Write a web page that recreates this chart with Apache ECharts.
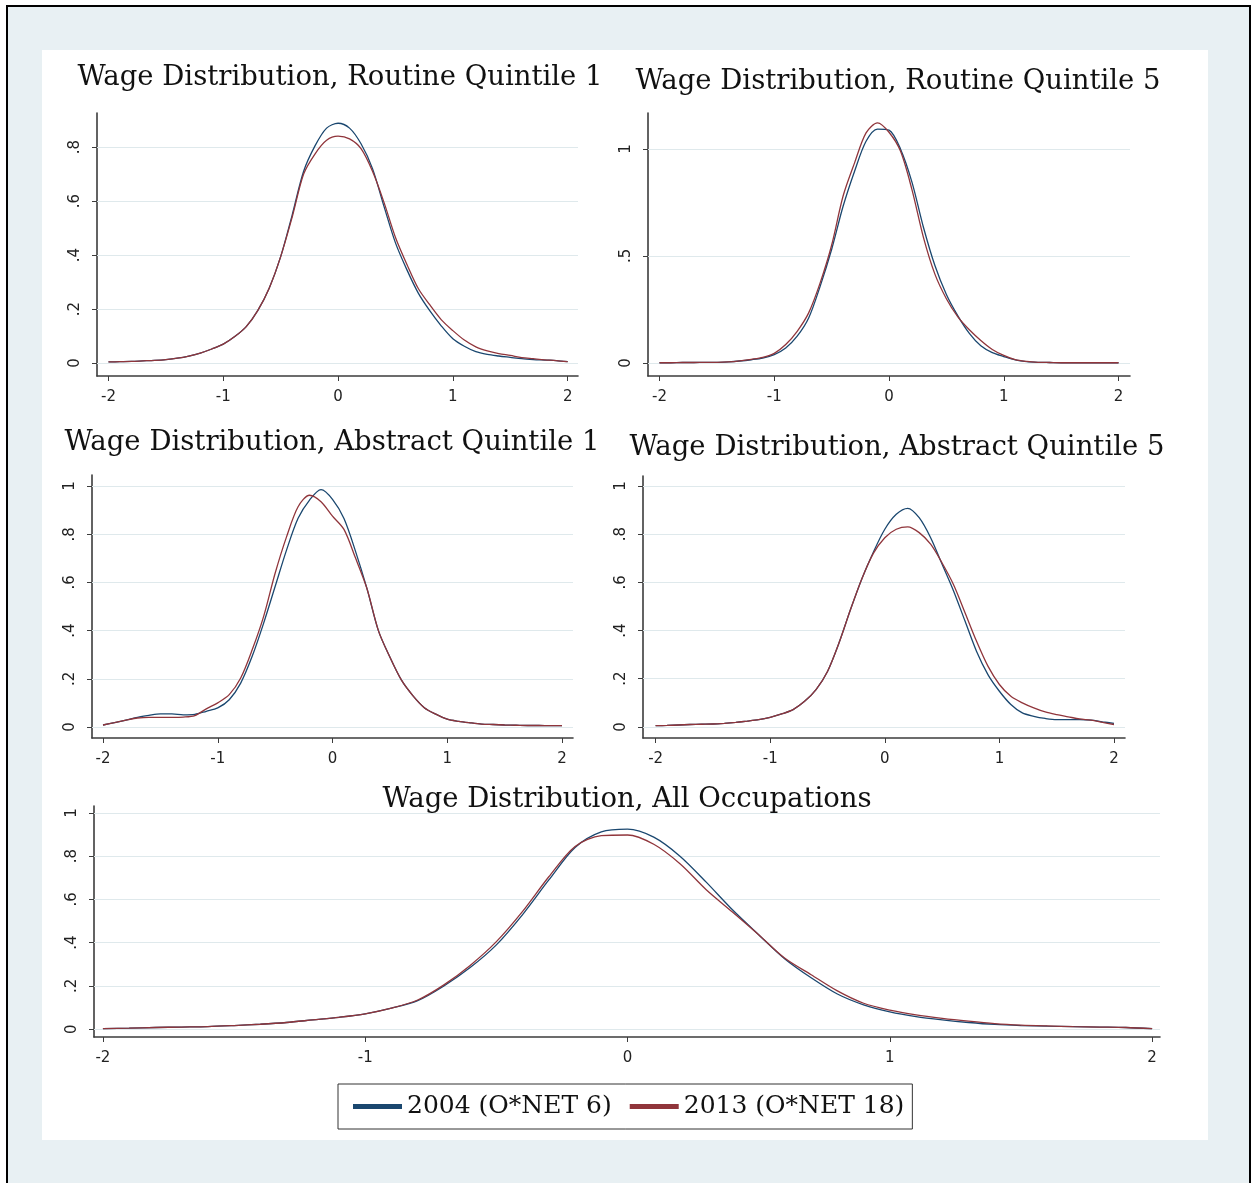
<!DOCTYPE html>
<html>
<head>
<meta charset="utf-8">
<title>Wage Distributions by Task Quintile</title>
<script src="https://cdn.jsdelivr.net/npm/echarts@6/dist/echarts.min.js"></script>
<style>
  html, body { margin: 0; padding: 0; background: #ffffff; }
  #chart { width: 1257px; height: 1183px; }
</style>
</head>
<body>
<div id="chart"></div>
<script>
// ---- data -------------------------------------------------------------
// Kernel density of log wages (standardised), evaluated on a grid of wage points.
const xGrid = [-2.0, -1.9, -1.8, -1.7, -1.6, -1.5, -1.4, -1.3, -1.2, -1.1,
               -1.0, -0.9, -0.8, -0.7, -0.6, -0.5, -0.4, -0.3, -0.2, -0.1,
                0.0,  0.1,  0.2,  0.3,  0.4,  0.5,  0.6,  0.7,  0.8,  0.9,
                1.0,  1.1,  1.2,  1.3,  1.4,  1.5,  1.6,  1.7,  1.8,  1.9, 2.0];

const seriesNames = ['2004 (O*NET 6)', '2013 (O*NET 18)'];

const panelTitles = [
  'Wage Distribution, Routine Quintile 1',
  'Wage Distribution, Routine Quintile 5',
  'Wage Distribution, Abstract Quintile 1',
  'Wage Distribution, Abstract Quintile 5',
  'Wage Distribution, All Occupations'
];

const routineQ1_2004 = [0.004, 0.005, 0.006, 0.008, 0.010, 0.013, 0.018, 0.026, 0.037, 0.052,
                        0.070, 0.098, 0.135, 0.194, 0.277, 0.394, 0.548, 0.710, 0.805, 0.870,
                        0.888, 0.870, 0.812, 0.720, 0.580, 0.445, 0.345, 0.258, 0.193, 0.137,
                        0.090, 0.062, 0.042, 0.032, 0.026, 0.021, 0.016, 0.013, 0.011, 0.009, 0.005];
const routineQ1_2013 = [0.004, 0.005, 0.006, 0.008, 0.010, 0.013, 0.018, 0.026, 0.037, 0.052,
                        0.070, 0.098, 0.135, 0.194, 0.277, 0.394, 0.540, 0.700, 0.775, 0.825,
                        0.840, 0.830, 0.794, 0.710, 0.595, 0.465, 0.365, 0.275, 0.215, 0.160,
                        0.120, 0.085, 0.060, 0.045, 0.035, 0.028, 0.020, 0.016, 0.012, 0.009, 0.005];

const routineQ5_2004 = [0.001, 0.001, 0.002, 0.002, 0.003, 0.003, 0.005, 0.009, 0.015, 0.023,
                        0.039, 0.070, 0.125, 0.210, 0.358, 0.530, 0.732, 0.896, 1.036, 1.093,
                        1.088, 1.000, 0.845, 0.634, 0.455, 0.320, 0.220, 0.138, 0.080, 0.048,
                        0.030, 0.014, 0.006, 0.003, 0.002, 0.001, 0.001, 0.001, 0.001, 0.001, 0.001];
const routineQ5_2013 = [0.001, 0.001, 0.002, 0.002, 0.003, 0.003, 0.005, 0.010, 0.017, 0.026,
                        0.045, 0.086, 0.148, 0.234, 0.374, 0.550, 0.780, 0.935, 1.075, 1.122,
                        1.078, 0.990, 0.810, 0.587, 0.415, 0.300, 0.215, 0.155, 0.105, 0.063,
                        0.035, 0.015, 0.007, 0.003, 0.002, 0.001, 0.001, 0.001, 0.001, 0.001, 0.001];

const abstractQ1_2004 = [0.008, 0.018, 0.028, 0.040, 0.048, 0.054, 0.054, 0.050, 0.052, 0.065,
                         0.079, 0.113, 0.182, 0.293, 0.431, 0.583, 0.735, 0.866, 0.942, 0.985,
                         0.945, 0.865, 0.730, 0.575, 0.400, 0.290, 0.195, 0.130, 0.080, 0.053,
                         0.032, 0.023, 0.017, 0.012, 0.010, 0.008, 0.007, 0.006, 0.006, 0.005, 0.005];
const abstractQ1_2013 = [0.008, 0.018, 0.028, 0.037, 0.040, 0.040, 0.040, 0.041, 0.047, 0.075,
                         0.100, 0.134, 0.203, 0.320, 0.459, 0.638, 0.790, 0.914, 0.962, 0.935,
                         0.875, 0.820, 0.702, 0.575, 0.400, 0.290, 0.195, 0.130, 0.080, 0.053,
                         0.032, 0.023, 0.017, 0.012, 0.010, 0.008, 0.007, 0.006, 0.006, 0.005, 0.005];

const abstractQ5_2004 = [0.005, 0.006, 0.008, 0.010, 0.011, 0.012, 0.015, 0.019, 0.024, 0.030,
                         0.040, 0.054, 0.072, 0.106, 0.155, 0.230, 0.348, 0.486, 0.615, 0.725,
                         0.820, 0.882, 0.907, 0.868, 0.785, 0.675, 0.564, 0.439, 0.314, 0.217,
                         0.148, 0.093, 0.058, 0.044, 0.035, 0.030, 0.030, 0.030, 0.028, 0.021, 0.015];
const abstractQ5_2013 = [0.005, 0.006, 0.008, 0.010, 0.011, 0.012, 0.015, 0.019, 0.024, 0.030,
                         0.040, 0.054, 0.072, 0.106, 0.155, 0.230, 0.348, 0.486, 0.615, 0.720,
                         0.785, 0.820, 0.830, 0.806, 0.758, 0.680, 0.590, 0.474, 0.356, 0.252,
                         0.176, 0.127, 0.100, 0.079, 0.062, 0.051, 0.042, 0.033, 0.028, 0.019, 0.010];

const allOcc_2004 = [0.003, 0.005, 0.008, 0.010, 0.012, 0.017, 0.023, 0.031, 0.043, 0.055,
                     0.071, 0.097, 0.132, 0.200, 0.285, 0.390, 0.530, 0.690, 0.840, 0.912,
                     0.925, 0.888, 0.800, 0.680, 0.552, 0.437, 0.325, 0.238, 0.163, 0.113,
                     0.080, 0.058, 0.043, 0.031, 0.022, 0.017, 0.014, 0.012, 0.010, 0.008, 0.003];
const allOcc_2013 = [0.003, 0.005, 0.008, 0.010, 0.012, 0.017, 0.023, 0.031, 0.043, 0.055,
                     0.071, 0.097, 0.135, 0.205, 0.295, 0.405, 0.545, 0.705, 0.845, 0.895,
                     0.898, 0.855, 0.765, 0.645, 0.542, 0.437, 0.328, 0.252, 0.177, 0.120,
                     0.088, 0.066, 0.050, 0.037, 0.026, 0.019, 0.015, 0.012, 0.010, 0.008, 0.003];

// tick labels
const xTicks = [-2, -1, 0, 1, 2];
const yTicksFine = [0, 0.2, 0.4, 0.6, 0.8];
const yTicksFineTo1 = [0, 0.2, 0.4, 0.6, 0.8, 1];
const yTicksHalf = [0, 0.5, 1];

// ---- layout (pixel geometry of each plot region) ------------------------
const panels = [
  { title: panelTitles[0], a: routineQ1_2004, b: routineQ1_2013, yTicks: yTicksFine,
    grid: { left: 97, top: 113, width: 481, height: 263 },
    xRange: [-2.10, 2.09], yRange: [-0.048, 0.926], titlePos: [340, 78] },
  { title: panelTitles[1], a: routineQ5_2004, b: routineQ5_2013, yTicks: yTicksHalf,
    grid: { left: 648, top: 113, width: 482, height: 263 },
    xRange: [-2.10, 2.10], yRange: [-0.061, 1.168], titlePos: [898, 82] },
  { title: panelTitles[2], a: abstractQ1_2004, b: abstractQ1_2013, yTicks: yTicksFineTo1,
    grid: { left: 92, top: 475, width: 481, height: 263 },
    xRange: [-2.096, 2.096], yRange: [-0.046, 1.046], titlePos: [332, 443] },
  { title: panelTitles[3], a: abstractQ5_2004, b: abstractQ5_2013, yTicks: yTicksFineTo1,
    grid: { left: 643, top: 476, width: 482, height: 262 },
    xRange: [-2.11, 2.096], yRange: [-0.046, 1.041], titlePos: [897, 448] },
  { title: panelTitles[4], a: allOcc_2004, b: allOcc_2013, yTicks: yTicksFineTo1,
    grid: { left: 94, top: 806, width: 1066, height: 231 },
    xRange: [-2.034, 2.03], yRange: [-0.036, 1.032], titlePos: [627, 800] }
];

const COLOR_2004 = '#1a476f';
const COLOR_2013 = '#90353b';
const AXIS_COLOR = '#3c3c3c';
const GRID_COLOR = '#dfe9ec';
const TICK_FONT = '"DejaVu Sans", "Liberation Sans", sans-serif';
const TITLE_FONT = '"DejaVu Serif", "Liberation Serif", serif';

// Stata-style number labels: 0, .2, .5, 1
function stataLabel(v) {
  if (Math.abs(v) < 1e-9) return '0';
  const s = String(+v.toFixed(3));
  return s.replace(/^0\./, '.').replace(/^-0\./, '-.');
}

function pairs(ys) {
  return xGrid.map((x, i) => [x, ys[i]]);
}

const grids = [], xAxes = [], yAxes = [], series = [], graphics = [];

// page frame and plot-region backdrop
graphics.push({
  type: 'rect', z: -20, silent: true,
  shape: { x: 7, y: 6, width: 1243, height: 1200 },
  style: { fill: '#e8f0f3', stroke: '#000000', lineWidth: 2 }
});
graphics.push({
  type: 'rect', z: -19, silent: true,
  shape: { x: 42, y: 50, width: 1166, height: 1090 },
  style: { fill: '#ffffff' }
});

panels.forEach((p, i) => {
  grids.push(Object.assign({ containLabel: false }, p.grid));

  xAxes.push({
    type: 'value', gridIndex: i, min: p.xRange[0], max: p.xRange[1],
    axisLine: { show: true, onZero: false, lineStyle: { color: AXIS_COLOR, width: 1.6 } },
    axisTick: { show: true, length: 5, customValues: xTicks, lineStyle: { color: AXIS_COLOR, width: 1 } },
    axisLabel: { show: true, customValues: xTicks, margin: 14, formatter: stataLabel,
                 fontFamily: TICK_FONT, fontSize: 15, color: '#222' },
    splitLine: { show: false }
  });

  yAxes.push({
    type: 'value', gridIndex: i, min: p.yRange[0], max: p.yRange[1],
    axisLine: { show: true, onZero: false, lineStyle: { color: AXIS_COLOR, width: 1.6 } },
    axisTick: { show: true, length: 5, customValues: p.yTicks, lineStyle: { color: AXIS_COLOR, width: 1 } },
    axisLabel: { show: true, customValues: p.yTicks, rotate: 90, margin: 14, formatter: stataLabel,
                 fontFamily: TICK_FONT, fontSize: 15, color: '#222' },
    splitLine: { show: false }
  });

  series.push({
    name: seriesNames[0], type: 'line', xAxisIndex: i, yAxisIndex: i,
    data: pairs(p.a), showSymbol: false, smooth: 0.3, z: 3,
    lineStyle: { color: COLOR_2004, width: 1.3 }, itemStyle: { color: COLOR_2004 },
    emphasis: { disabled: true },
    markLine: {
      silent: true, symbol: 'none', z: 1, animation: false,
      label: { show: false },
      lineStyle: { color: GRID_COLOR, width: 1.2, type: 'solid' },
      emphasis: { disabled: true },
      data: p.yTicks.map(v => ({ yAxis: v }))
    }
  });
  series.push({
    name: seriesNames[1], type: 'line', xAxisIndex: i, yAxisIndex: i,
    data: pairs(p.b), showSymbol: false, smooth: 0.3, z: 3,
    lineStyle: { color: COLOR_2013, width: 1.3 }, itemStyle: { color: COLOR_2013 },
    emphasis: { disabled: true }
  });

  graphics.push({
    type: 'text', x: p.titlePos[0], y: p.titlePos[1], silent: true,
    style: { text: p.title, font: '27.5px ' + TITLE_FONT, fill: '#111111',
             align: 'center', verticalAlign: 'middle' }
  });
});

const chart = echarts.init(document.getElementById('chart'), null, { renderer: 'canvas' });
chart.setOption({
  animation: false,
  backgroundColor: '#ffffff',
  grid: grids,
  xAxis: xAxes,
  yAxis: yAxes,
  series: series,
  graphic: graphics,
  legend: {
    data: seriesNames, selectedMode: false,
    left: 338, top: 1084, orient: 'horizontal',
    icon: 'rect', itemWidth: 49, itemHeight: 5, itemGap: 18,
    padding: [10, 8, 10, 15],
    borderColor: '#333333', borderWidth: 1, backgroundColor: '#ffffff',
    textStyle: { fontFamily: TITLE_FONT, fontSize: 25, color: '#111111' }
  }
});
</script>
</body>
</html>
